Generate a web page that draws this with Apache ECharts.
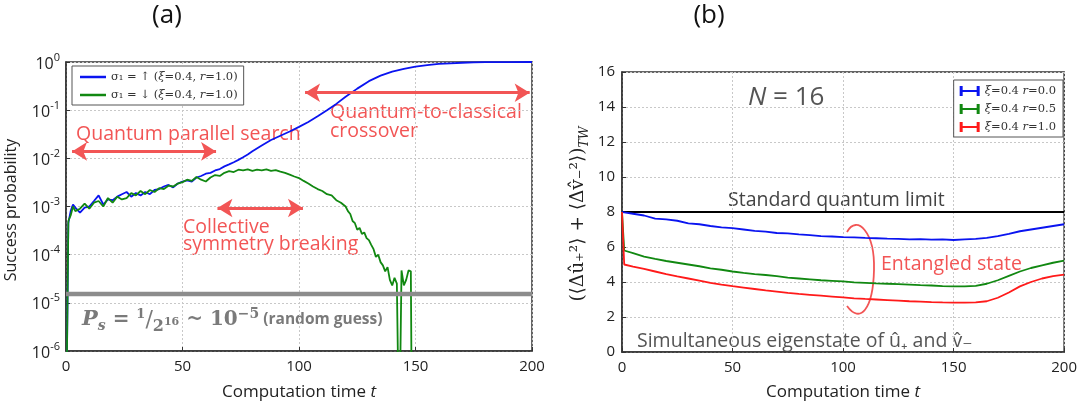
<!DOCTYPE html>
<html><head><meta charset="utf-8">
<script src="https://cdn.jsdelivr.net/npm/echarts@6/dist/echarts.min.js"></script>
<style>html,body{margin:0;padding:0;background:#fff}#c{width:1080px;height:406px}</style>
</head><body><div id="c"></div>
<script>
// ---------- Panel (a) data ----------
const timeUp = [0,1,2,3,4,6,8,10,12,14,16,18,20,22,24,26,28,30,32,34,36,38,40,42,44,46,48,50,52,54,56,58,60,62,64,66,68,70,72,74,76,78,80,84,88,92,96,100,104,108,112,116,120,125,130,135,140,145,150,155,160,165,170,175,180,190,200];
const probUp = [1e-8,4.5e-4,8e-4,1.1e-3,9.5e-4,7.5e-4,9.5e-4,1.0e-3,1.3e-3,1.7e-3,1.1e-3,1.4e-3,1.35e-3,1.6e-3,1.8e-3,2.0e-3,1.6e-3,1.9e-3,1.7e-3,2.0e-3,1.8e-3,2.2e-3,2.3e-3,2.6e-3,2.8e-3,2.5e-3,3.0e-3,3.3e-3,3.5e-3,3.3e-3,4.0e-3,4.3e-3,4.8e-3,5.0e-3,5.6e-3,6.0e-3,6.8e-3,7.5e-3,8.3e-3,9.3e-3,1.05e-2,1.2e-2,1.4e-2,1.85e-2,2.4e-2,2.95e-2,3.6e-2,4.5e-2,5.7e-2,7.5e-2,0.1,0.135,0.19,0.28,0.4,0.52,0.63,0.72,0.8,0.86,0.91,0.94,0.965,0.98,0.99,0.998,1.0];
const timeDown = [0,1,2,3,4,6,8,10,12,14,16,18,20,22,24,26,28,30,32,34,36,38,40,42,44,46,48,50,52,54,56,58,60,62,64,66,68,70,72,74,76,78,80,82,84,86,88,90,92,94,96,98,100,102,104,106,108,110,112,114,116,118,120,121,122,123,124,125,126,127,128,129,130,131,132,133,134,135,136,137,138,139,140,141,142,143,144,145,146,147,148,148.5];
const probDown = [1e-8,5e-4,6.5e-4,1.0e-3,8e-4,9e-4,1.15e-3,9e-4,1.2e-3,1.3e-3,1.0e-3,1.5e-3,1.2e-3,1.6e-3,1.4e-3,1.5e-3,1.9e-3,1.7e-3,2.1e-3,1.8e-3,2.2e-3,2.0e-3,2.4e-3,2.3e-3,2.7e-3,2.6e-3,3.0e-3,3.2e-3,3.6e-3,3.4e-3,4.1e-3,3.6e-3,3.3e-3,4.0e-3,4.5e-3,4.3e-3,5.0e-3,5.4e-3,5.2e-3,5.8e-3,5.6e-3,5.9e-3,5.5e-3,5.8e-3,5.6e-3,5.9e-3,5.5e-3,5.7e-3,5.3e-3,5.0e-3,4.6e-3,4.2e-3,3.9e-3,3.4e-3,3.0e-3,2.6e-3,2.3e-3,2.1e-3,1.8e-3,1.7e-3,1.35e-3,1.2e-3,1.0e-3,8e-4,7e-4,5e-4,4.5e-4,3.3e-4,3.6e-4,2.7e-4,2.9e-4,2.2e-4,2.0e-4,1.6e-4,1.3e-4,9e-5,1.0e-4,7e-5,6e-5,4.5e-5,5.5e-5,3e-5,2.3e-5,3.3e-5,2.5e-5,1e-8,4.7e-5,2.3e-5,3e-5,4.7e-5,4.5e-5,1e-8];
const randomGuess = 1 / 65536;
const nameUp = 'σ₁ = ↑ (ξ=0.4, r=1.0)';
const nameDown = 'σ₁ = ↓ (ξ=0.4, r=1.0)';
// arrows (start t, end t, level)
const arrowSearch = [2.6, 64.4, 0.0139];
const arrowCross = [102.6, 199, 0.23];
const arrowBreak = [65, 101.7, 9.3e-4];

// ---------- Panel (b) data ----------
const timeR = [0,1,5,10,15,20,25,30,35,40,45,50,55,60,65,70,75,80,85,90,95,100,105,110,115,120,125,130,135,140,145,150,155,160,165,170,175,180,185,190,195,200];
const varR00 = [8.0,7.98,7.9,7.8,7.62,7.58,7.5,7.35,7.3,7.2,7.12,7.08,7.0,6.92,6.88,6.8,6.78,6.72,6.68,6.62,6.6,6.57,6.55,6.52,6.5,6.48,6.47,6.44,6.45,6.42,6.43,6.4,6.44,6.47,6.52,6.62,6.75,6.9,7.0,7.1,7.2,7.3];
const varR05 = [8.0,5.8,5.65,5.45,5.32,5.2,5.1,5.0,4.9,4.78,4.7,4.6,4.52,4.45,4.4,4.33,4.25,4.2,4.15,4.1,4.07,4.03,3.98,3.95,3.92,3.9,3.88,3.85,3.82,3.8,3.77,3.75,3.75,3.78,3.9,4.1,4.35,4.6,4.8,4.95,5.1,5.22];
const varR10 = [8.0,5.0,4.88,4.75,4.6,4.45,4.32,4.2,4.08,3.95,3.85,3.76,3.68,3.6,3.52,3.45,3.38,3.32,3.27,3.22,3.17,3.12,3.07,3.03,3.0,2.97,2.94,2.9,2.88,2.85,2.83,2.82,2.82,2.83,2.9,3.1,3.4,3.75,4.0,4.2,4.33,4.42];
const sqlLimit = 8;
const namesR = ['ξ=0.4 r=0.0', 'ξ=0.4 r=0.5', 'ξ=0.4 r=1.0'];

const zip = (a, b) => a.map((t, i) => [t, b[i]]);
const RED = '#f25555';
const FONT = '"Open Sans", "DejaVu Sans", sans-serif';
const SERIF = '"DejaVu Serif", serif';
const gridLine = { show: true, lineStyle: { color: '#c8c8c8', type: [2, 2], width: 1 } };
const axLine = { show: true, lineStyle: { color: '#333', width: 1.5 } };
const tick = { show: true, inside: true, length: 4, lineStyle: { color: '#333' } };
const lbl = { color: '#222', fontSize: 15, fontFamily: FONT };
const mathFmt = n => n.replace('ξ', '{i|ξ}').replace('r=', '{i|r}=');

function arrowLine(a, gridIdx) {
  return {
    type: 'line', xAxisIndex: gridIdx, yAxisIndex: gridIdx, data: [], silent: true,
    markLine: {
      silent: true, symbol: ['arrow', 'arrow'], symbolSize: [14, 15],
      label: { show: false },
      lineStyle: { color: RED, width: 3, type: 'solid' },
      data: [[{ coord: [a[0], a[2]] }, { coord: [a[1], a[2]] }]]
    }
  };
}
const xName = { fontSize: 17, color: '#222', fontFamily: FONT, rich: { i: { fontStyle: 'italic', fontSize: 17, fontFamily: FONT, color: '#222' } } };

const chart = echarts.init(document.getElementById('c'), null, { renderer: 'canvas' });
const option = {
  animation: false,
  backgroundColor: '#fff',
  grid: [
    { left: 66, right: 548, top: 62, bottom: 50, show: true, borderColor: '#333', borderWidth: 1.5, containLabel: false },
    { left: 622, right: 12, top: 72, bottom: 47, show: true, borderColor: '#333', borderWidth: 1.5, containLabel: false }
  ],
  xAxis: [
    { gridIndex: 0, type: 'value', min: 0, max: 200, interval: 50, axisLine: axLine, axisTick: tick, splitLine: gridLine,
      axisLabel: Object.assign({ margin: 8 }, lbl),
      name: 'Computation time {i|t}', nameLocation: 'middle', nameGap: 33, nameTextStyle: xName },
    { gridIndex: 1, type: 'value', min: 0, max: 200, interval: 50, axisLine: axLine, axisTick: tick, splitLine: gridLine,
      axisLabel: Object.assign({ margin: 8 }, lbl),
      name: 'Computation time {i|t}', nameLocation: 'middle', nameGap: 32, nameTextStyle: xName }
  ],
  yAxis: [
    { gridIndex: 0, type: 'log', logBase: 10, min: 1e-6, max: 1, axisLine: axLine, axisTick: tick, splitLine: gridLine,
      axisLabel: { margin: 6, formatter: v => '{b|10}{s|' + Math.round(Math.log10(v)) + '}',
        rich: { b: { fontSize: 16, color: '#222', fontFamily: FONT, verticalAlign: 'bottom', lineHeight: 20 },
                s: { fontSize: 11, color: '#222', fontFamily: FONT, verticalAlign: 'top', lineHeight: 20 } } } },
    { gridIndex: 1, type: 'value', min: 0, max: 16, interval: 2, axisLine: axLine, axisTick: tick, splitLine: gridLine,
      axisLabel: Object.assign({ margin: 7 }, lbl) }
  ],
  legend: [
    { data: [nameUp, nameDown], orient: 'vertical', left: 72, top: 66, icon: 'rect', itemWidth: 26, itemHeight: 2.5, itemGap: 6,
      borderColor: '#555', borderWidth: 1, padding: [5, 6, 4, 8], backgroundColor: '#fff',
      formatter: mathFmt,
      textStyle: { fontFamily: SERIF, fontSize: 11.5, color: '#333',
        rich: { i: { fontFamily: SERIF, fontStyle: 'italic', fontSize: 11.5, color: '#333' } } } },
    { data: namesR, orient: 'vertical', right: 17, top: 80, itemWidth: 20, itemHeight: 11, itemGap: 6,
      icon: 'path://M0,0h3v10h-3z M3,4h14v2h-14z M17,0h3v10h-3z',
      borderColor: '#555', borderWidth: 1, padding: [5, 7, 4, 6], backgroundColor: '#fff',
      formatter: mathFmt,
      textStyle: { fontFamily: SERIF, fontSize: 11.5, color: '#333',
        rich: { i: { fontFamily: SERIF, fontStyle: 'italic', fontSize: 11.5, color: '#333' } } } }
  ],
  series: [
    { name: nameUp, type: 'line', xAxisIndex: 0, yAxisIndex: 0, data: zip(timeUp, probUp), showSymbol: false, symbol: 'none',
      lineStyle: { color: '#0a14f0', width: 1.8 }, itemStyle: { color: '#0a14f0' }, clip: true, z: 3 },
    { name: nameDown, type: 'line', xAxisIndex: 0, yAxisIndex: 0, data: zip(timeDown, probDown), showSymbol: false, symbol: 'none',
      lineStyle: { color: '#118811', width: 1.8 }, itemStyle: { color: '#118811' }, clip: true, z: 4 },
    { name: 'random', type: 'line', xAxisIndex: 0, yAxisIndex: 0, data: [[0, randomGuess], [200, randomGuess]], showSymbol: false, symbol: 'none',
      lineStyle: { color: '#8c8c8c', width: 4.5 }, z: 5 },
    arrowLine(arrowSearch, 0), arrowLine(arrowCross, 0), arrowLine(arrowBreak, 0),
    { name: 'SQL', type: 'line', xAxisIndex: 1, yAxisIndex: 1, data: [[0, sqlLimit], [200, sqlLimit]], showSymbol: false, symbol: 'none',
      lineStyle: { color: '#000', width: 2 }, z: 2 },
    { name: namesR[0], type: 'line', xAxisIndex: 1, yAxisIndex: 1, data: zip(timeR, varR00), showSymbol: false, symbol: 'none',
      lineStyle: { color: '#0a14f0', width: 1.8 }, itemStyle: { color: '#0a14f0' } },
    { name: namesR[1], type: 'line', xAxisIndex: 1, yAxisIndex: 1, data: zip(timeR, varR05), showSymbol: false, symbol: 'none',
      lineStyle: { color: '#118811', width: 1.8 }, itemStyle: { color: '#118811' } },
    { name: namesR[2], type: 'line', xAxisIndex: 1, yAxisIndex: 1, data: zip(timeR, varR10), showSymbol: false, symbol: 'none',
      lineStyle: { color: '#ff1a1a', width: 1.8 }, itemStyle: { color: '#ff1a1a' } }
  ],
  graphic: [
    { type: 'text', x: 167, y: 16, style: { text: '(a)', fill: '#111', font: '26px ' + FONT, textAlign: 'center', textVerticalAlign: 'middle' } },
    { type: 'text', x: 709, y: 16, style: { text: '(b)', fill: '#111', font: '26px ' + FONT, textAlign: 'center', textVerticalAlign: 'middle' } },
    { type: 'text', x: 11, y: 210, rotation: Math.PI / 2, style: { text: 'Success probability', fill: '#222', font: '16px ' + FONT, textAlign: 'center', textVerticalAlign: 'middle' } },
    { type: 'text', x: 76, y: 134, style: { text: 'Quantum parallel search', fill: RED, font: '19.5px ' + FONT, textAlign: 'left', textVerticalAlign: 'middle' } },
    { type: 'text', x: 330, y: 112, style: { text: 'Quantum-to-classical', fill: RED, font: '19.5px ' + FONT, textAlign: 'left', textVerticalAlign: 'middle' } },
    { type: 'text', x: 330, y: 131, style: { text: 'crossover', fill: RED, font: '19.5px ' + FONT, textAlign: 'left', textVerticalAlign: 'middle' } },
    { type: 'text', x: 183, y: 227, style: { text: 'Collective', fill: RED, font: '19.5px ' + FONT, textAlign: 'left', textVerticalAlign: 'middle' } },
    { type: 'text', x: 183, y: 244, style: { text: 'symmetry breaking', fill: RED, font: '19.5px ' + FONT, textAlign: 'left', textVerticalAlign: 'middle' } },
    { type: 'text', x: 82, y: 320, style: {
        text: '{P|P}{s|s}{eq| = }{sup|1}{sl|/}{den|2}{den2|16}{eq| ~ 10}{sup2|−5}{rg| (random guess)}',
        textAlign: 'left', textVerticalAlign: 'middle',
        rich: {
          P: { fontFamily: SERIF, fontStyle: 'italic', fontWeight: 'bold', fontSize: 21, fill: '#7a7a7a', lineHeight: 30, verticalAlign: 'middle' },
          s: { fontFamily: SERIF, fontStyle: 'italic', fontWeight: 'bold', fontSize: 14, fill: '#7a7a7a', lineHeight: 30, verticalAlign: 'bottom', padding: [0, 0, 2, 0] },
          eq: { fontFamily: SERIF, fontWeight: 'bold', fontSize: 20, fill: '#7a7a7a', lineHeight: 30, verticalAlign: 'middle' },
          sup: { fontFamily: SERIF, fontWeight: 'bold', fontSize: 13, fill: '#7a7a7a', lineHeight: 30, verticalAlign: 'top', padding: [3, 0, 0, 0] },
          sl: { fontFamily: SERIF, fontSize: 22, fill: '#7a7a7a', lineHeight: 30, verticalAlign: 'middle' },
          den: { fontFamily: SERIF, fontWeight: 'bold', fontSize: 16, fill: '#7a7a7a', lineHeight: 30, verticalAlign: 'bottom' },
          den2: { fontFamily: SERIF, fontWeight: 'bold', fontSize: 11, fill: '#7a7a7a', lineHeight: 30, verticalAlign: 'bottom', padding: [0, 0, 7, 0] },
          sup2: { fontFamily: SERIF, fontWeight: 'bold', fontSize: 14, fill: '#7a7a7a', lineHeight: 30, verticalAlign: 'top', padding: [2, 0, 0, 0] },
          rg: { fontFamily: FONT, fontWeight: 'bold', fontSize: 15.5, fill: '#7a7a7a', lineHeight: 30, verticalAlign: 'middle' }
        } } },
    // panel (b)
    { type: 'text', x: 578, y: 214, rotation: Math.PI / 2, style: {
        text: '{m|(⟨Δû₊²⟩ + ⟨Δv̂₋²⟩)}{s|TW}', textAlign: 'center', textVerticalAlign: 'middle',
        rich: { m: { fontFamily: SERIF, fontSize: 18.5, fill: '#222', lineHeight: 26, verticalAlign: 'middle' },
                s: { fontFamily: SERIF, fontStyle: 'italic', fontSize: 12.5, fill: '#222', lineHeight: 26, verticalAlign: 'bottom' } } } },
    { type: 'text', x: 748, y: 98, style: {
        text: '{i|N}{n| = 16}', textAlign: 'left', textVerticalAlign: 'middle',
        rich: { i: { fontFamily: FONT, fontStyle: 'italic', fontSize: 26, fill: '#555' }, n: { fontFamily: FONT, fontSize: 26, fill: '#555' } } } },
    { type: 'text', x: 728, y: 200, style: { text: 'Standard quantum limit', fill: '#444', font: '19.5px ' + FONT, textAlign: 'left', textVerticalAlign: 'middle' } },
    { type: 'text', x: 881, y: 264, style: { text: 'Entangled state', fill: RED, font: '19.5px ' + FONT, textAlign: 'left', textVerticalAlign: 'middle' } },
    { type: 'text', x: 637, y: 341, style: { text: 'Simultaneous eigenstate of û₊ and v̂₋', fill: '#555', font: '19.5px ' + FONT, textAlign: 'left', textVerticalAlign: 'middle' } },
    { type: 'bezierCurve', shape: { x1: 847, y1: 232, cpx1: 857, cpy1: 214, cpx2: 875, cpy2: 232, x2: 874, y2: 270 },
      style: { stroke: RED, lineWidth: 1.8, fill: null } },
    { type: 'bezierCurve', shape: { x1: 874, y1: 270, cpx1: 873, cpy1: 310, cpx2: 860, cpy2: 324, x2: 847, y2: 306 },
      style: { stroke: RED, lineWidth: 1.8, fill: null } }
  ]
};
chart.setOption(option);
</script>
</body></html>
